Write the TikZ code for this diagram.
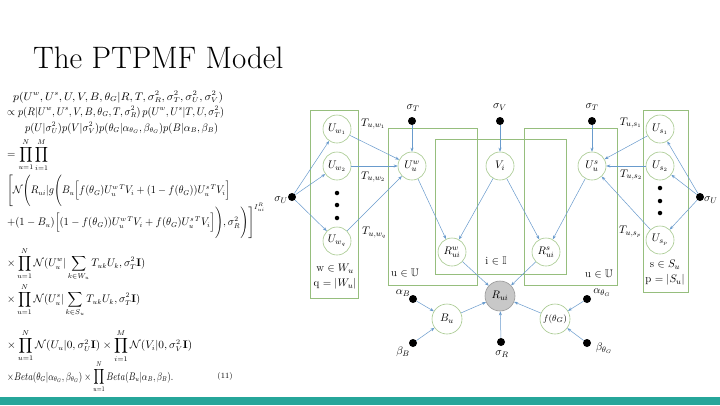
\documentclass[tikz,border=0pt]{standalone}
\usepackage{amsmath,amssymb}
\usetikzlibrary{arrows.meta}
\definecolor{plategreen}{RGB}{150,190,125}
\definecolor{nodegreen}{RGB}{165,200,140}
\definecolor{edgeblue}{RGB}{105,155,205}
\definecolor{barteal}{RGB}{38,166,154}
\definecolor{obsgray}{RGB}{200,200,200}
\newcommand{\eqln}[2]{\resizebox{#1pt}{\height}{\fontsize{10.5}{12}\selectfont$\displaystyle #2$}}
\begin{document}
\begin{tikzpicture}[x=1pt,y=-1pt,
  var/.style={circle,draw=nodegreen,fill=white,line width=0.6pt,minimum size=28pt,inner sep=0pt,font=\fontsize{11}{12}\selectfont},
  obs/.style={var,fill=obsgray,draw=gray!80,minimum size=30pt},
  hyper/.style={circle,fill=black,minimum size=8pt,inner sep=0pt},
  dotnode/.style={circle,fill=black,minimum size=4.5pt,inner sep=0pt},
  plate/.style={draw=plategreen,line width=0.9pt},
  edge/.style={draw=edgeblue,line width=0.5pt,-{Stealth[length=4pt,width=3pt]}},
  lbl/.style={font=\fontsize{11}{12}\selectfont,inner sep=1pt},
  eqn/.style={anchor=west,inner sep=0pt}
]
\fill[white] (0,0) rectangle (720,405);
\useasboundingbox (0,0) rectangle (720,405);

% title
\node[anchor=base west,inner sep=0pt,font=\fontsize{31}{36}\selectfont] (title) at (33,68) {The PTPMF Model};

% equations
\node[eqn] (e1) at (13,97) {\eqln{210}{p(U^w,U^s,U,V,B,\theta_G|R,T,\sigma_R^2,\sigma_T^2,\sigma_U^2,\sigma_V^2)}};
\node[eqn] (e2) at (7,112) {\eqln{217}{\propto p(R|U^w,U^s,V,B,\theta_G,T,\sigma_R^2)\,p(U^w,U^s|T,U,\sigma_T^2)}};
\node[eqn] (e3) at (25,128) {\eqln{193}{p(U|\sigma_U^2)p(V|\sigma_V^2)p(\theta_G|\alpha_{\theta_G},\beta_{\theta_G})p(B|\alpha_B,\beta_B)}};
\node[eqn] (e4) at (7,155) {\eqln{41}{=\prod_{u=1}^{N}\prod_{i=1}^{M}}};
\node[eqn] (e5) at (7,191) {\eqln{223}{\Bigg[\mathcal{N}\Bigg(R_{ui}|g\Bigg(B_u\Big[f(\theta_G)U_u^{w\,T}V_i+(1-f(\theta_G))U_u^{s\,T}V_i\Big]}};
\node[eqn] (e6) at (7,221) {\eqln{258}{+(1-B_u)\Big[(1-f(\theta_G))U_u^{w\,T}V_i+f(\theta_G)U_u^{s\,T}V_i\Big]\Bigg),\sigma_R^2\Bigg)\Bigg]^{I_{ui}^R}}};
\node[eqn] (e7) at (7,264) {\eqln{138}{\times\prod_{u=1}^{N}\mathcal{N}(U_u^w|\sum_{k\in W_u}T_{uk}U_k,\sigma_T^2\mathbf{I})}};
\node[eqn] (e8) at (7,300) {\eqln{133}{\times\prod_{u=1}^{N}\mathcal{N}(U_u^s|\sum_{k\in S_u}T_{uk}U_k,\sigma_T^2\mathbf{I})}};
\node[eqn] (e9) at (7,346) {\eqln{185}{\times\prod_{u=1}^{N}\mathcal{N}(U_u|0,\sigma_U^2\mathbf{I})\times\prod_{i=1}^{M}\mathcal{N}(V_i|0,\sigma_V^2\mathbf{I})}};
\node[eqn] (e10) at (7,377) {\eqln{166}{\times Beta(\theta_G|\alpha_{\theta_G},\beta_{\theta_G})\times\prod_{u=1}^{N}Beta(B_u|\alpha_B,\beta_B).}};
\node[inner sep=0pt,font=\fontsize{8}{9}\selectfont] (eqnum) at (225,376) {(11)};

% plates
\draw[plate] (310,110) rectangle (358,298);
\draw[plate] (388,128) rectangle (477,285);
\draw[plate] (435,139) rectangle (566,274);
\draw[plate] (524,128) rectangle (617,285);
\draw[plate] (643,110) rectangle (688,292);

% plate labels
\node[lbl] (pl1) at (335,269) {w $\in W_u$};
\node[lbl] (pl2) at (335,284) {q $=|W_u|$};
\node[lbl] (pl3) at (405,273) {u $\in\mathbb{U}$};
\node[lbl] (pl4) at (496,261) {i $\in\mathbb{I}$};
\node[lbl] (pl5) at (599,274) {u $\in\mathbb{U}$};
\node[lbl] (pl6) at (665,265) {s $\in S_u$};
\node[lbl] (pl7) at (665,280) {p $=|S_u|$};

% variable nodes
\node[var] (Uw1) at (337,129) {$U_{w_1}$};
\node[var] (Uw2) at (337,166) {$U_{w_2}$};
\node[var] (Uwq) at (337,241) {$U_{w_q}$};
\node[dotnode] (d1) at (337,193) {};
\node[dotnode] (d2) at (337,205) {};
\node[dotnode] (d3) at (337,218) {};
\node[var] (Uuw) at (412,166) {$U_u^w$};
\node[var] (Vi) at (500,166) {$V_i$};
\node[var] (Uus) at (592,166) {$U_u^s$};
\node[var] (Rw) at (452,252) {$R_{ui}^w$};
\node[var] (Rs) at (546,252) {$R_{ui}^s$};
\node[obs] (R) at (500,296) {$R_{ui}$};
\node[var,minimum size=30pt] (Bu) at (447,319) {$B_u$};
\node[var,minimum size=30pt,font=\fontsize{9.5}{10}\selectfont] (ft) at (555,319) {$f(\theta_G)$};
\node[var] (Us1) at (660,129) {$U_{s_1}$};
\node[var] (Us2) at (660,166) {$U_{s_2}$};
\node[var] (Usp) at (660,240) {$U_{s_p}$};
\node[dotnode] (d4) at (660,188) {};
\node[dotnode] (d5) at (660,201) {};
\node[dotnode] (d6) at (660,213) {};

% hyperparameters
\node[hyper] (sUL) at (292,197) {};
\node[hyper] (sUR) at (700,197) {};
\node[hyper] (sTL) at (412,121) {};
\node[hyper] (sV) at (500,121) {};
\node[hyper] (sTR) at (592,121) {};
\node[hyper] (aB) at (413,299) {};
\node[hyper] (bB) at (413,343) {};
\node[hyper] (sR) at (501,342) {};
\node[hyper] (aG) at (587,299) {};
\node[hyper] (bG) at (587,343) {};

\node[lbl,anchor=east] (lsUL) at (289,200) {$\sigma_U$};
\node[lbl,anchor=west] (lsUR) at (703,200) {$\sigma_U$};
\node[lbl] (lsTL) at (413,108) {$\sigma_T$};
\node[lbl] (lsV) at (500,107) {$\sigma_V$};
\node[lbl] (lsTR) at (592,107) {$\sigma_T$};
\node[lbl] (laB) at (403,293) {$\alpha_B$};
\node[lbl] (lbB) at (403,352) {$\beta_B$};
\node[lbl] (lsR) at (502,354) {$\sigma_R$};
\node[lbl] (laG) at (602,293) {$\alpha_{\theta_G}$};
\node[lbl] (lbG) at (604,348) {$\beta_{\theta_G}$};

% edge labels
\node[lbl,anchor=west] (t1) at (360,124) {$T_{u,w_1}$};
\node[lbl,anchor=west] (t2) at (360,177) {$T_{u,w_2}$};
\node[lbl,anchor=west] (t3) at (361,233) {$T_{u,w_q}$};
\node[lbl,anchor=east] (t4) at (643,123) {$T_{u,s_1}$};
\node[lbl,anchor=west] (t5) at (619,175) {$T_{u,s_2}$};
\node[lbl,anchor=west] (t6) at (618,232) {$T_{u,s_p}$};

% edges
\draw[edge] (sUL) -- (Uw1);
\draw[edge] (sUL) -- (Uw2);
\draw[edge] (sUL) -- (Uwq);
\draw[edge] (sUR) -- (Us1);
\draw[edge] (sUR) -- (Us2);
\draw[edge] (sUR) -- (Usp);
\draw[edge] (Uw1) -- (Uuw);
\draw[edge] (Uw2) -- (Uuw);
\draw[edge] (Uwq) -- (Uuw);
\draw[edge] (Us1) -- (Uus);
\draw[edge] (Us2) -- (Uus);
\draw[edge] (Usp) -- (Uus);
\draw[edge] (sTL) -- (Uuw);
\draw[edge] (sV) -- (Vi);
\draw[edge] (sTR) -- (Uus);
\draw[edge] (Uuw) -- (Rw);
\draw[edge] (Vi) -- (Rw);
\draw[edge] (Vi) -- (Rs);
\draw[edge] (Uus) -- (Rs);
\draw[edge] (Rw) -- (R);
\draw[edge] (Rs) -- (R);
\draw[edge] (Bu) -- (R);
\draw[edge] (ft) -- (R);
\draw[edge] (sR) -- (R);
\draw[edge] (aB) -- (Bu);
\draw[edge] (bB) -- (Bu);
\draw[edge] (aG) -- (ft);
\draw[edge] (bG) -- (ft);

% bottom bar
\fill[barteal] (0,397) rectangle (720,405);
\end{tikzpicture}
\end{document}
